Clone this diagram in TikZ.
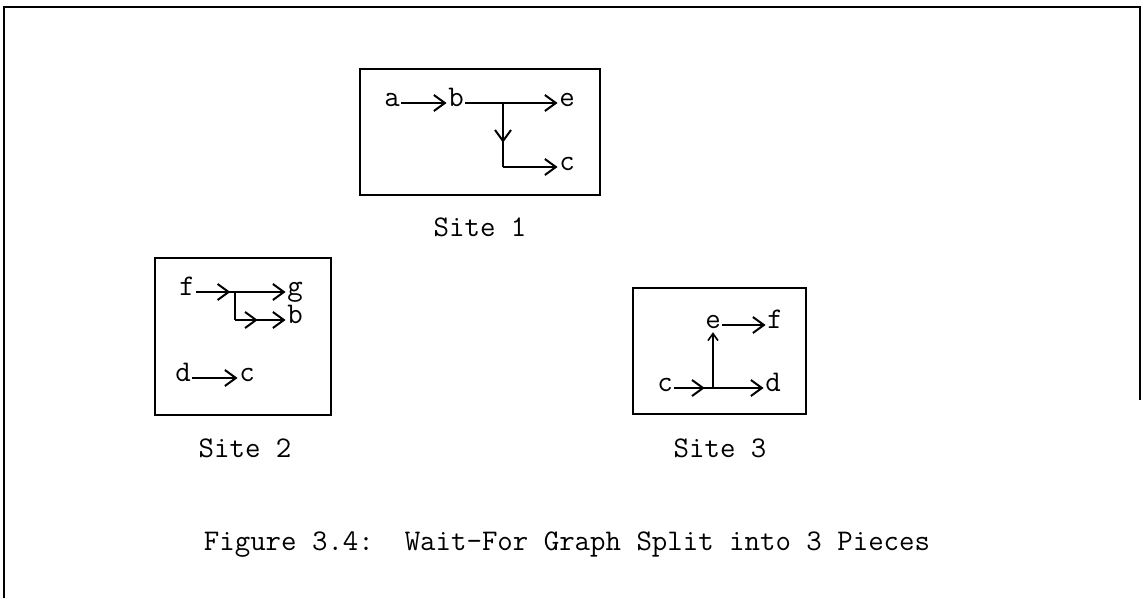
\documentclass[tikz,border=0pt]{standalone}
\usepackage{fontspec}
\usetikzlibrary{arrows.meta,decorations.markings}
\begin{document}
\begin{tikzpicture}[x=1pt,y=-1pt,
  every node/.style={font=\ttfamily\fontsize{30}{36}\selectfont},
  vert/.style={inner xsep=1.5pt, inner ysep=0pt, text height=1.4ex, text depth=0pt},
  lbl/.style={inner sep=0pt},
  line/.style={line width=2pt},
  tip/.style={-{Straight Barb[length=11pt,width=16pt,line width=2pt]}},
  midarrow/.style={postaction={decorate},decoration={markings,
     mark=at position #1 with {\arrow{Straight Barb[length=11pt,width=16pt,line width=2pt]}}}},
  box/.style={line width=2pt}]
\useasboundingbox (0,0) rectangle (1144,598);
% outer frame
\coordinate (fbl) at (4,598);
\coordinate (ftl) at (4,7);
\coordinate (ftr) at (1140,7);
\coordinate (fbr) at (1140,400);
\draw[line width=2.2pt] (fbl) -- (ftl) -- (ftr) -- (fbr);

% Site 1
\draw[box] (360,69) rectangle (600,195);
\node[vert] (a1) at (392,103) {a};
\node[vert] (b1) at (456,103) {b};
\node[vert] (e1) at (567,103) {e};
\node[vert] (c1) at (567,167) {c};
\coordinate (j1) at (503,103);
\coordinate (k1) at (503,167);
\draw[line,tip] (a1) -- (b1);
\draw[line,tip] (b1) -- (e1);
\draw[line,midarrow=0.62] (j1) -- (k1);
\draw[line,tip] (k1) -- (c1);
\node[lbl] (s1) at (480,227) {Site~1};

% Site 2
\draw[box] (155,258) rectangle (331,415);
\node[vert] (f2) at (187,292) {f};
\node[vert] (g2) at (295,292) {g};
\node[vert] (b2) at (295,320) {b};
\node[vert] (d2) at (183,378) {d};
\node[vert] (c2) at (247,378) {c};
\coordinate (j2) at (235,292);
\coordinate (k2) at (235,320);
\draw[line,tip,midarrow=0.38] (f2) -- (g2);
\draw[line] (j2) -- (k2);
\draw[line,tip,midarrow=0.45] (k2) -- (b2);
\draw[line,tip] (d2) -- (c2);
\node[lbl] (s2) at (245,448) {Site~2};

% Site 3
\draw[box] (633,288) rectangle (806,414);
\node[vert] (e3) at (713,325) {e};
\node[vert] (f3) at (775,325) {f};
\node[vert] (c3) at (665,388) {c};
\node[vert] (d3) at (773,388) {d};
\coordinate (j3) at (713,388);
\draw[line,tip] (e3) -- (f3);
\draw[line,tip,midarrow=0.34] (c3) -- (d3);
\draw[line,shorten >=4pt,-{Straight Barb[length=7pt,width=10pt,line width=1.6pt]}] (j3) -- (e3);
\node[lbl] (s3) at (720,448) {Site~3};

% caption
\node[lbl] (cap) at (567,545) {Figure~3.4:~~Wait-For Graph Split into 3 Pieces};
\end{tikzpicture}
\end{document}
